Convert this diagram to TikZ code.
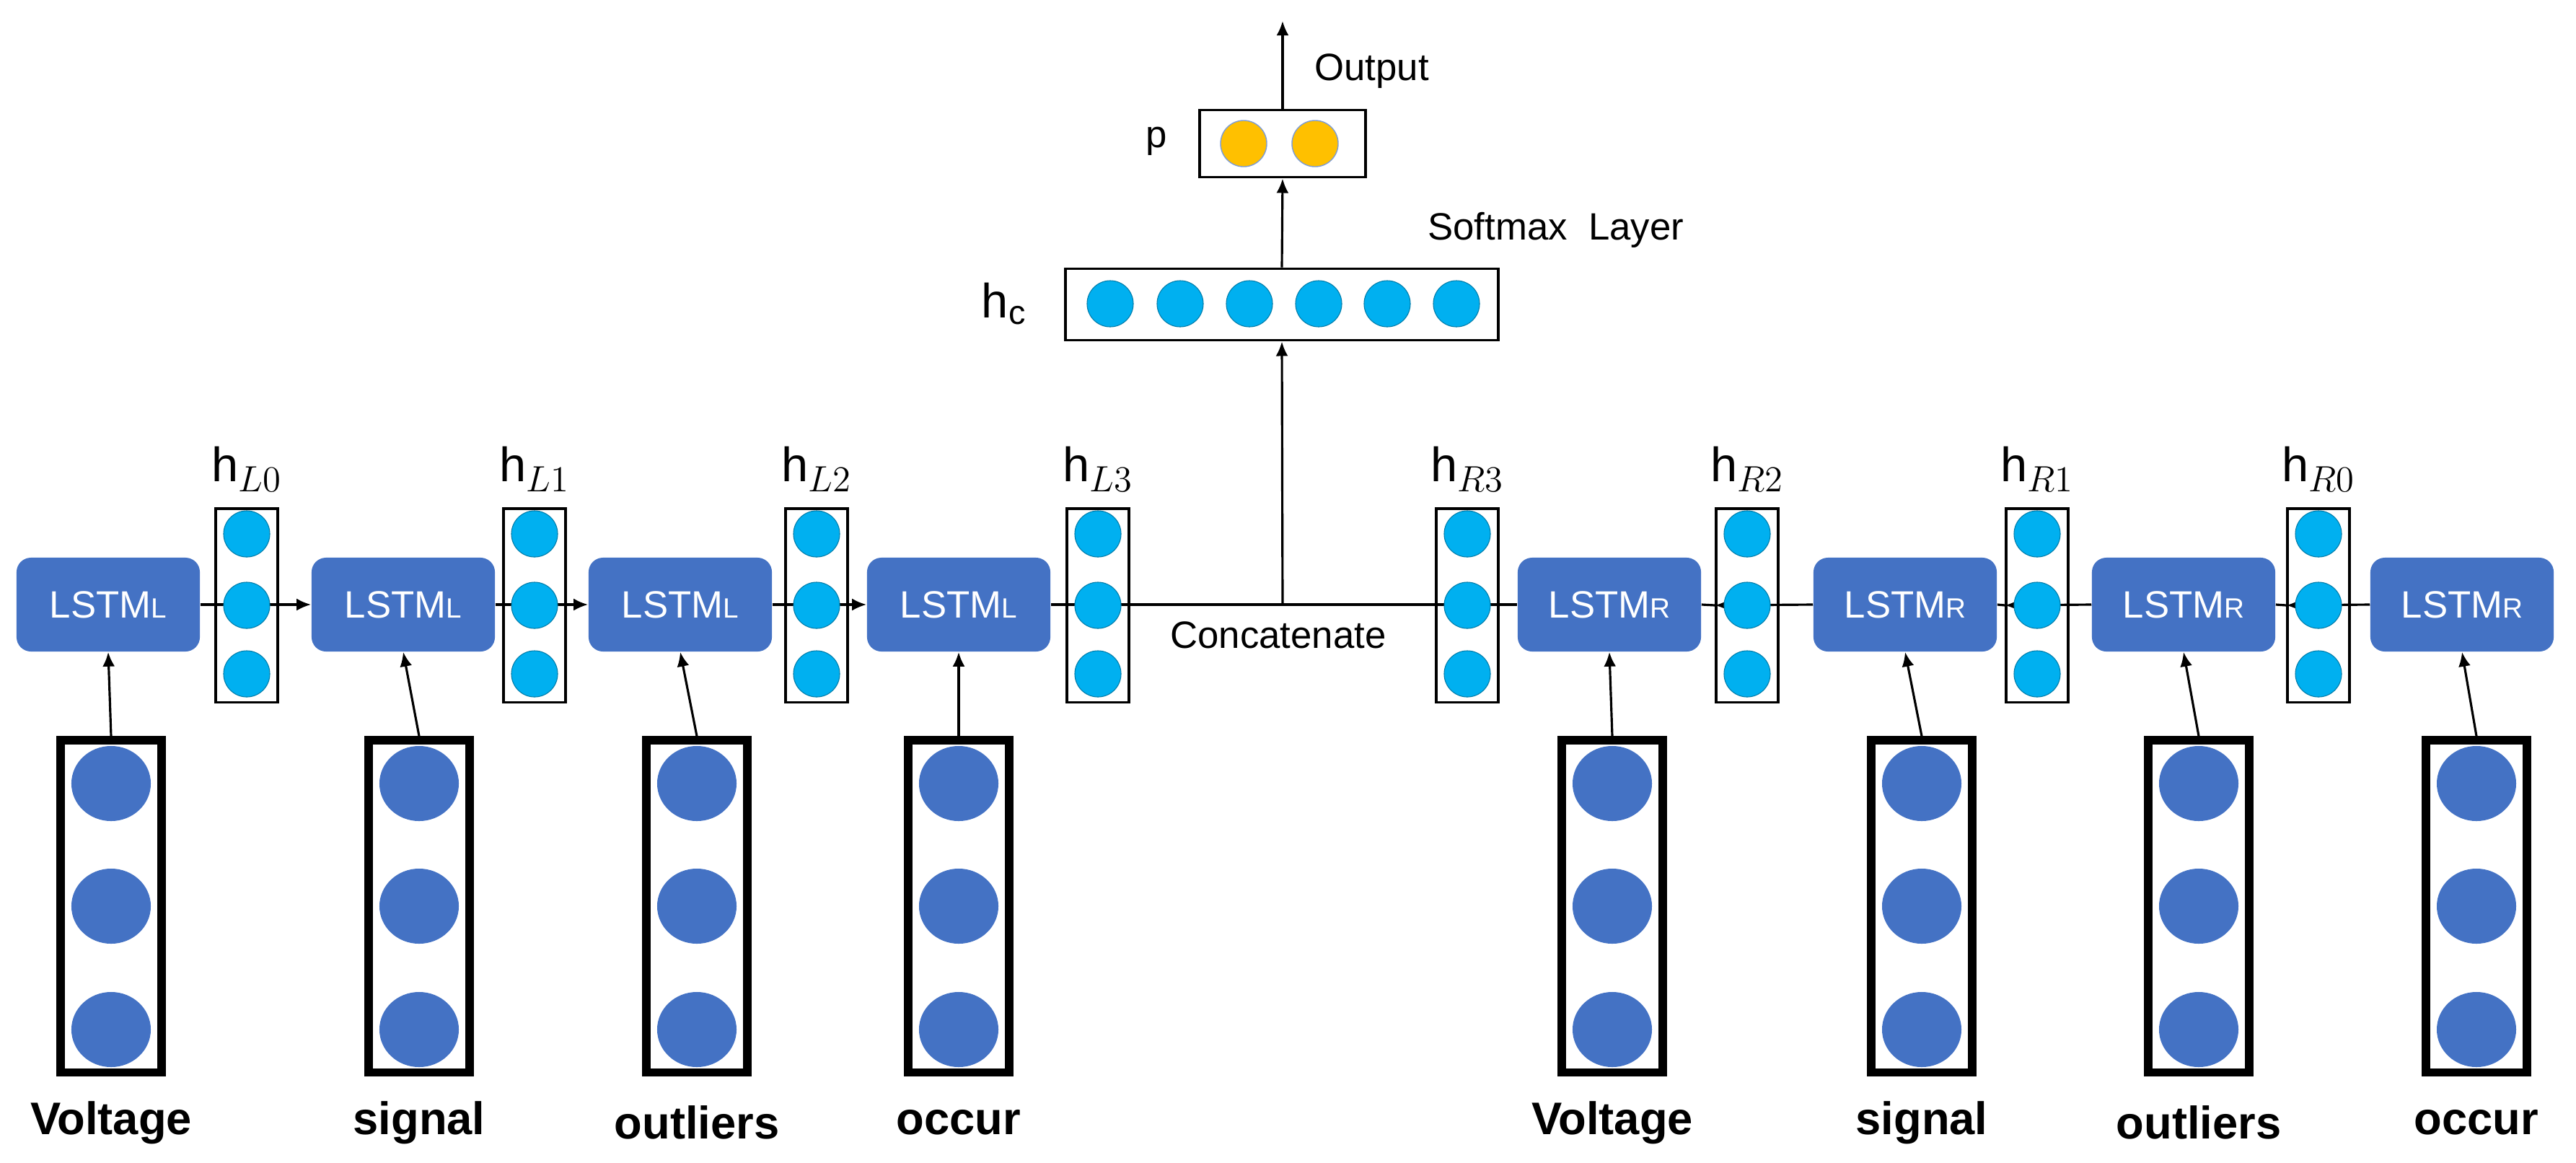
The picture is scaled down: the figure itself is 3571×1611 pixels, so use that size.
\documentclass[tikz,border=0pt]{standalone}
\usepackage{fontspec}
\setmainfont{Liberation Sans}
\usetikzlibrary{arrows.meta,backgrounds,shapes.geometric}
\definecolor{lblue}{HTML}{4472C4}
\definecolor{cyanc}{HTML}{00B0F0}
\definecolor{gold}{HTML}{FFC000}
\tikzset{
  lstm/.style={fill=lblue,rounded corners=0.2cm,minimum width=2.54cm,minimum height=1.3cm,inner sep=0pt,text=white,font=\fontsize{15}{15}\selectfont},
  hbox/.style={draw,line width=0.9pt,minimum width=0.86cm,minimum height=2.68cm,inner sep=0pt},
  hc/.style={circle,fill=cyanc,draw=cyanc!70!black,line width=0.3pt,minimum size=0.64cm,inner sep=0pt},
  ibox/.style={draw,line width=3.2pt,minimum width=1.4cm,minimum height=4.6cm,inner sep=0pt},
  ic/.style={ellipse,fill=lblue,minimum width=1.1cm,minimum height=1.04cm,inner sep=0pt},
  pc/.style={circle,fill=gold,draw=lblue!70,line width=0.4pt,minimum size=0.64cm,inner sep=0pt},
  conn/.style={line width=0.9pt},
  arr/.style={line width=0.9pt,-{Latex[length=0.2cm,width=0.17cm]}},
  word/.style={font=\fontsize{18}{18}\selectfont\bfseries},
  hl/.style={font=\fontsize{19}{19}\selectfont},
  lab/.style={font=\fontsize{15}{15}\selectfont},
}
\newcommand{\Lt}{LSTM{\fontsize{11}{11}\selectfont L}}
\newcommand{\Rt}{LSTM{\fontsize{11}{11}\selectfont R}}
\newcommand{\hid}[3]{% name x label-sub
  \node[hbox] (#1) at (#2,839) {};
  \node[hc] (#1a) at (#2,740) {};
  \node[hc] (#1b) at (#2,839) {};
  \node[hc] (#1c) at (#2,934) {};
  \node[hl] (#1t) at (#2,650) {$\mathrm{h}_{#3}$};
}
\newcommand{\inp}[3]{% name x word
  \node[ibox] (#1) at (#2,1256) {};
  \node[ic] (#1a) at (#2,1086) {};
  \node[ic] (#1b) at (#2,1256) {};
  \node[ic] (#1c) at (#2,1427) {};
  \node[word] (#1t) at (#2,1556) {#3};
}
\begin{document}
\begin{tikzpicture}[x=0.01cm,y=-0.01cm]
\useasboundingbox (0,0) rectangle (3571,1611);
% LSTM cells
\node[lstm] (l1) at (150,838) {\Lt};
\node[lstm] (l2) at (559,838) {\Lt};
\node[lstm] (l3) at (943,838) {\Lt};
\node[lstm] (l4) at (1329,838) {\Lt};
\node[lstm] (r1) at (2231,838) {\Rt};
\node[lstm] (r2) at (2641,838) {\Rt};
\node[lstm] (r3) at (3027,838) {\Rt};
\node[lstm] (r4) at (3413,838) {\Rt};
% hidden vectors
\hid{hL0}{342}{L0}
\hid{hL1}{741}{L1}
\hid{hL2}{1132}{L2}
\hid{hL3}{1522}{L3}
\hid{hR3}{2034}{R3}
\hid{hR2}{2422}{R2}
\hid{hR1}{2824}{R1}
\hid{hR0}{3214}{R0}
% inputs
\inp{i1}{154}{Voltage}
\inp{i2}{581}{signal}
\inp{i3}{966}{outliers}
\inp{i4}{1329}{occur}
\inp{i5}{2235}{Voltage}
\inp{i6}{2664}{signal}
\inp{i7}{3048}{outliers}
\inp{i8}{3433}{occur}
% concatenated vector
\node[draw,line width=1.1pt,minimum width=6cm,minimum height=0.99cm,inner sep=0pt] (hcb) at (1777,422) {};
\foreach \x [count=\k] in {1539,1636,1732,1828,1923,2019}
  \node[hc] (hc\k) at (\x,421) {};
\node[hl] (hct) at (1392,421) {$\mathrm{h}_\mathrm{c}$};
% output
\node[draw,line width=1.1pt,minimum width=2.3cm,minimum height=0.93cm,inner sep=0pt] (pb) at (1778,199) {};
\node[pc] (p1) at (1724,199) {};
\node[pc] (p2) at (1823,199) {};
\node[lab] (pt) at (1603,196) {p};
\coordinate (out) at (1778,29);
\coordinate (cat) at (1778,839);
\node[lab,anchor=west] (outt) at (1810,99) {Output};
\node[lab,anchor=west] (smt) at (1967,319) {Softmax~ Layer};
\node[lab] (catt) at (1772,880) {Concatenate};
\begin{scope}[on background layer]
\draw[arr] (l1.east) -- (l2.west);
\draw[arr] (l2.east) -- (l3.west);
\draw[arr] (l3.east) -- (l4.west);
\draw[conn] (l4.east) -- (r1.west);
\draw[arr] (r2.west) -- (hR2.west);
\draw[conn] (hR2.west) -- (r1.east);
\draw[arr] (r3.west) -- (hR1.west);
\draw[conn] (hR1.west) -- (r2.east);
\draw[arr] (r4.west) -- (hR0.west);
\draw[conn] (hR0.west) -- (r3.east);
\end{scope}
\foreach \i/\l in {i1/l1,i2/l2,i3/l3,i4/l4,i5/r1,i6/r2,i7/r3,i8/r4}
  \draw[arr] (\i.north) -- (\l.south);
\draw[arr] (cat) -- (hcb.south);
\draw[arr] (hcb.north) -- (pb.south);
\draw[arr] (pb.north) -- (out);
\end{tikzpicture}
\end{document}
